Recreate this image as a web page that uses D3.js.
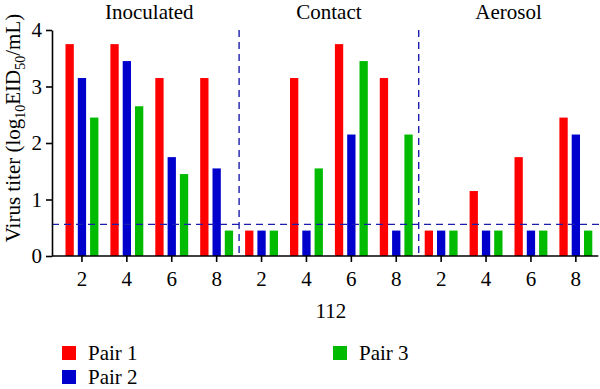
<!DOCTYPE html>
<html>
<head>
<meta charset="utf-8">
<script src="https://cdn.jsdelivr.net/npm/d3@7"></script>
<style>
  html, body { margin: 0; padding: 0; background: #fff; }
  svg { display: block; }
  svg text { font-family: "Liberation Serif", "DejaVu Serif", serif !important; fill: #000; }
</style>
</head>
<body>
<svg id="chart" width="600" height="389"></svg>
<script>
// ---- data ----
const groups = ["Inoculated", "Contact", "Aerosol"];
const days = ["2", "4", "6", "8"];
const pairs = ["Pair 1", "Pair 2", "Pair 3"];
const pair1 = [3.75, 3.75, 3.15, 3.15, 0.45, 3.15, 3.75, 3.15, 0.45, 1.15, 1.75, 2.45];
const pair2 = [3.15, 3.45, 1.75, 1.55, 0.45, 0.45, 2.15, 0.45, 0.45, 0.45, 0.45, 2.15];
const pair3 = [2.45, 2.65, 1.45, 0.45, 0.45, 1.55, 3.45, 2.15, 0.45, 0.45, 0.45, 0.45];
const yTicks = [0, 1, 2, 3, 4];
const detectionLimit = 0.56;
const xTitle = "112";
const colors = ["#ff0000", "#0000cc", "#00bb00"];

// ---- build ----
const cats = [];
groups.forEach(g => days.forEach(d => cats.push(g + "|" + d)));
const series = [pair1, pair2, pair3];
const rows = [];
series.forEach((vals, si) => vals.forEach((v, ci) => rows.push({ pair: pairs[si], cat: cats[ci], value: v })));

const svg = d3.select("#chart");
const mLeft = 52, mRight = 598.3, mTop = 30, mBottom = 256;

const x = d3.scaleBand().domain(cats).range([59.5, mRight]).padding(0);
const sub = d3.scaleBand().domain(pairs).range([-16.45, 16.45]).paddingInner(0.325).paddingOuter(0);
const y = d3.scaleLinear().domain([0, 4]).range([mBottom, mTop]);
const color = d3.scaleOrdinal().domain(pairs).range(colors);

// bars
svg.append("g").selectAll("rect").data(rows).join("rect")
  .attr("x", d => x(d.cat) + x.bandwidth() / 2 + sub(d.pair))
  .attr("width", sub.bandwidth())
  .attr("y", d => y(d.value))
  .attr("height", d => y(0) - y(d.value))
  .attr("fill", d => color(d.pair));

// dashed detection limit
svg.append("line")
  .attr("x1", mLeft).attr("x2", 600)
  .attr("y1", y(detectionLimit)).attr("y2", y(detectionLimit))
  .attr("stroke", "#1c1cb0").attr("stroke-width", 1.4).attr("stroke-dasharray", "7,5");

// dashed group separators
[1, 2].forEach(k => {
  const xs = x(cats[k * days.length]);
  svg.append("line")
    .attr("x1", xs).attr("x2", xs)
    .attr("y1", y(4)).attr("y2", y(0))
    .attr("stroke", "#1c1cb0").attr("stroke-width", 1.4).attr("stroke-dasharray", "7,5");
});

// y axis
const yAxis = svg.append("g").attr("transform", `translate(${mLeft},0)`)
  .call(d3.axisLeft(y).tickValues(yTicks).tickFormat(d3.format("d")).tickSize(6).tickSizeOuter(0).tickPadding(4));
yAxis.select(".domain").attr("stroke-width", 1.6);
yAxis.selectAll(".tick line").attr("stroke-width", 1.6);
yAxis.selectAll("text").style("font-size", "21px");

// x axis
const xAxis = svg.append("g").attr("transform", `translate(0,${mBottom})`)
  .call(d3.axisBottom(x).tickFormat(d => d.split("|")[1]).tickSize(6).tickSizeOuter(0).tickPadding(9));
xAxis.select(".domain").remove();
xAxis.append("line").attr("x1", mLeft).attr("x2", mRight).attr("y1", 0).attr("y2", 0)
  .attr("stroke", "#000").attr("stroke-width", 1.6);
xAxis.selectAll(".tick line").attr("stroke-width", 1.6);
xAxis.selectAll("text").style("font-size", "21px");

// group titles
groups.forEach(g => {
  const c0 = x(g + "|" + days[0]) + x.bandwidth() / 2;
  const c1 = x(g + "|" + days[days.length - 1]) + x.bandwidth() / 2;
  svg.append("text").attr("x", (c0 + c1) / 2).attr("y", 18.5)
    .attr("text-anchor", "middle").style("font-size", "21px").text(g);
});

// x title
svg.append("text").attr("x", (x.range()[0] + x.range()[1]) / 2 + 2).attr("y", 318)
  .attr("text-anchor", "middle").style("font-size", "21px").text(xTitle);

// y title
const yt = svg.append("text").attr("transform", `translate(20,128) rotate(-90)`)
  .attr("text-anchor", "middle").style("font-size", "21px");
yt.append("tspan").text("Virus titer (log");
yt.append("tspan").style("font-size", "14px").attr("dy", 5).text("10");
yt.append("tspan").attr("dy", -5).text("EID");
yt.append("tspan").style("font-size", "14px").attr("dy", 5).text("50");
yt.append("tspan").attr("dy", -5).text("/mL)");

// legend
const legPos = [[62, 353], [62, 377], [333, 353]];
pairs.forEach((p, i) => {
  const [lx, ly] = legPos[i];
  svg.append("rect").attr("x", lx).attr("y", ly - 7).attr("width", 14).attr("height", 14).attr("fill", color(p));
  svg.append("text").attr("x", lx + 26).attr("y", ly + 7).style("font-size", "21px").text(p);
});
</script>
</body>
</html>
